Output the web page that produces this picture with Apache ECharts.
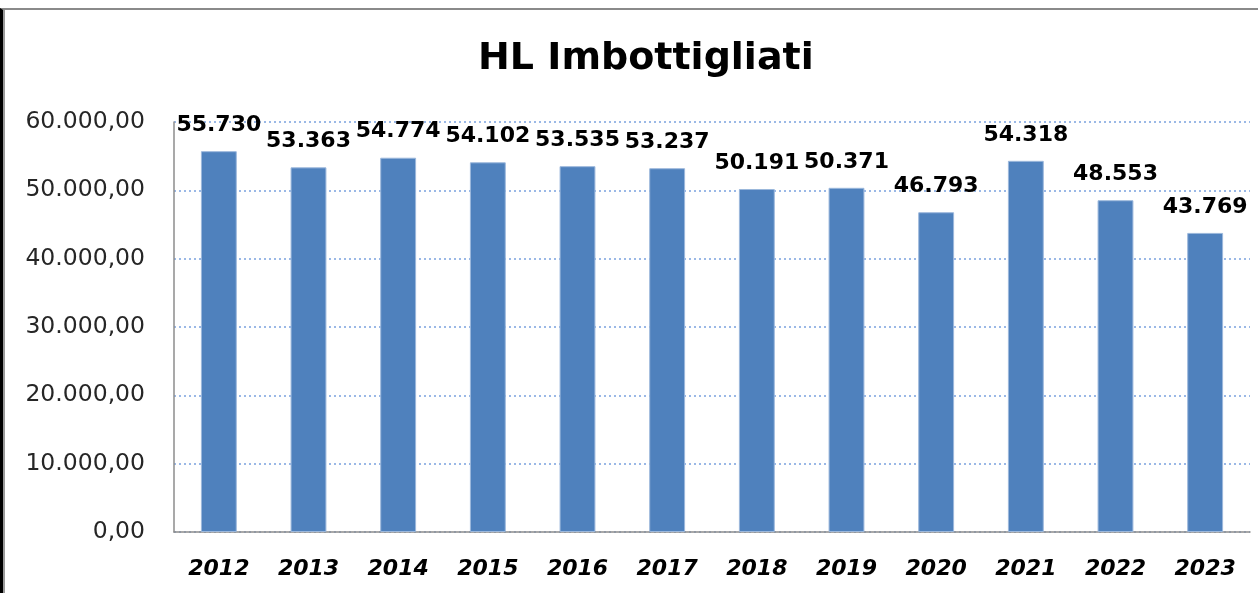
<!DOCTYPE html>
<html>
<head>
<meta charset="utf-8">
<script src="https://cdn.jsdelivr.net/npm/echarts@6/dist/echarts.min.js"></script>
<style>
    html, body { margin: 0; padding: 0; background: #fff; }
    #frame {
        position: absolute; left: 0; top: 8px; width: 1258px; height: 585px;
        border-top: 2px solid #8a8a8a; border-left: 3px solid #000; box-sizing: border-box;
    }
    #frame2 {
        position: absolute; left: 3px; top: 10px; width: 2px; height: 583px; background: #9a9a9a;
    }
    #main { position: absolute; left: 0; top: 0; width: 1258px; height: 593px; }
</style>
</head>
<body>
<div id="frame"></div>
<div id="frame2"></div>
<div id="main"></div>
<script>
// dati
const years = ["2012", "2013", "2014", "2015", "2016", "2017", "2018", "2019", "2020", "2021", "2022", "2023"];
const hl = [55730, 53363, 54774, 54102, 53535, 53237, 50191, 50371, 46793, 54318, 48553, 43769];

// 55730 -> "55.730"
const thousands = (v) => String(Math.round(v)).replace(/\B(?=(\d{3})+(?!\d))/g, ".");

var myChart = echarts.init(document.getElementById("main"));

const option = {
    animation: false,
    title: {
        text: "HL Imbottigliati",
        left: 473,
        top: 35,
        textStyle: {
            fontFamily: "DejaVu Sans",
            fontWeight: "bold",
            fontSize: 38,
            color: "#000"
        }
    },
    grid: {
        left: 174,
        right: 8,
        top: 122,
        bottom: 61,
        containLabel: false
    },
    xAxis: {
        type: "category",
        data: years,
        axisTick: { show: false },
        axisLine: { lineStyle: { color: "#8c8c8c", width: 1.5 } },
        axisLabel: {
            margin: 26,
            fontFamily: "DejaVu Sans",
            fontWeight: "bold",
            fontStyle: "italic",
            fontSize: 22,
            color: "#000"
        }
    },
    yAxis: {
        type: "value",
        min: 0,
        max: 60000,
        interval: 10000,
        axisTick: { show: false },
        axisLine: { show: true, lineStyle: { color: "#8c8c8c", width: 1.5 } },
        splitLine: {
            lineStyle: { color: "#9ab8e6", width: 2, type: [2, 3] }
        },
        axisLabel: {
            margin: 29,
            fontFamily: "DejaVu Sans",
            fontSize: 23.5,
            color: "#262626",
            formatter: (v) => thousands(v) + ",00"
        }
    },
    series: [
        {
            type: "bar",
            data: hl,
            barWidth: "40%",
            itemStyle: {
                color: "#4f81bd",
                borderColor: "#9cb8dc",
                borderWidth: 1
            },
            label: {
                show: true,
                position: "top",
                distance: 15,
                fontFamily: "DejaVu Sans",
                fontWeight: "bold",
                fontSize: 22,
                color: "#000",
                formatter: (p) => thousands(p.value)
            }
        }
    ]
};

myChart.setOption(option);
</script>
</body>
</html>
